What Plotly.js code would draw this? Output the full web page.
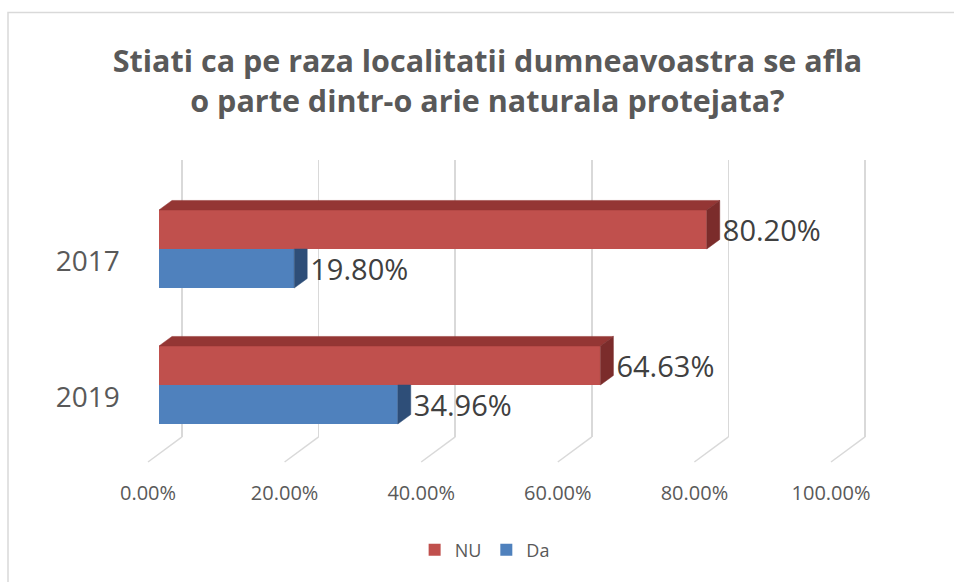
<!DOCTYPE html>
<html>
<head>
<meta charset="utf-8">
<script src="https://cdn.plot.ly/plotly-3.0.1.min.js"></script>
<style>html,body{margin:0;padding:0;background:#fff;}#chart{width:954px;height:582px;}</style>
</head>
<body>
<div id="chart"></div>
<script>
// ---- data ----
const categories = ['2017', '2019'];
const seriesNames = ['NU', 'Da'];
const nuValues = [80.20, 64.63];
const daValues = [19.80, 34.96];
const xTickVals = [0, 20, 40, 60, 80, 100];
const xTickText = ['0.00%', '20.00%', '40.00%', '60.00%', '80.00%', '100.00%'];
const titleText = 'Stiati ca pe raza localitatii dumneavoastra se afla<br>o parte dintr-o arie naturala protejata?';

// ---- styling / geometry constants ----
const W = 0.287;        // bar thickness (category units)
const DX = 1.9;         // 3D depth along x (axis units)
const DY = 0.07;        // 3D depth along y (category units)
const BACK_DX = 3.37, BACK_U = -0.382;   // floor line back end offset
const FRONT_DX = -1.61, FRONT_U = -0.566; // floor line front end offset
const LABEL_DX = 0.45, LABEL_DU = -0.03;  // data label nudge
const RED = '#C0504D', RED_TOP = '#943634', RED_SIDE = '#7B2C2B';
const BLUE = '#4F81BD', BLUE_SIDE = '#2E4E78';
const GRID = '#D9D9D9';
const FONT = 'Open Sans, Noto Sans, sans-serif';

const catPos = categories.map((c, i) => categories.length - 1 - i);

const traces = [];
traces.push({
  type: 'bar', orientation: 'h', name: seriesNames[0],
  x: nuValues, y: catPos, offset: 0, width: W,
  marker: {color: RED, line: {width: 0}},
  xaxis: 'x2', yaxis: 'y2', hoverinfo: 'x+name'
});
traces.push({
  type: 'bar', orientation: 'h', name: seriesNames[1],
  x: daValues, y: catPos, offset: -W, width: W,
  marker: {color: BLUE, line: {width: 0}},
  xaxis: 'x2', yaxis: 'y2', hoverinfo: 'x+name'
});

function poly(xs, ys, color) {
  return {
    type: 'scatter', mode: 'lines', x: xs.concat([xs[0]]), y: ys.concat([ys[0]]),
    fill: 'toself', fillcolor: color, line: {color: color, width: 0.5},
    xaxis: 'x2', yaxis: 'y2', hoverinfo: 'skip', showlegend: false, cliponaxis: false
  };
}

catPos.forEach((u, i) => {
  const vn = nuValues[i], vd = daValues[i];
  const nTop = u + W, nBot = u;
  // NU top face
  traces.push(poly([0, vn, vn + DX, DX], [nTop, nTop, nTop + DY, nTop + DY], RED_TOP));
  // NU side face
  traces.push(poly([vn, vn, vn + DX, vn + DX], [nBot, nTop, nTop + DY, nBot + DY], RED_SIDE));
  // Da side face (upper part hidden behind NU bar)
  const dBot = u - W, dTop = u;
  traces.push(poly([vd, vd, vd + DX, vd + DX], [dBot, dTop, dTop, dBot + DY], BLUE_SIDE));
});

// floor lines of the 3D grid
const fx = [], fy = [];
xTickVals.forEach(v => { fx.push(v + BACK_DX, v + FRONT_DX, null); fy.push(BACK_U, FRONT_U, null); });
traces.push({
  type: 'scatter', mode: 'lines', x: fx, y: fy, line: {color: GRID, width: 1.5},
  xaxis: 'x2', yaxis: 'y2', hoverinfo: 'skip', showlegend: false, cliponaxis: false
});

// data labels
function labels(vals, du) {
  return {
    type: 'scatter', mode: 'text',
    x: vals.map(v => v + DX + LABEL_DX), y: catPos.map(u => u + du + LABEL_DU),
    text: vals.map(v => v.toFixed(2) + '%'), textposition: 'middle right',
    textfont: {family: FONT, size: 29, color: '#404040'},
    xaxis: 'x2', yaxis: 'y2', hoverinfo: 'skip', showlegend: false, cliponaxis: false
  };
}
traces.push(labels(nuValues, W / 2));
traces.push(labels(daValues, -W / 2));

// dummy trace to create the back-wall grid subplot
traces.push({type: 'scatter', mode: 'markers', x: [50], y: [0.5], xaxis: 'x', yaxis: 'y',
  marker: {opacity: 0}, hoverinfo: 'skip', showlegend: false});

const layout = {
  width: 954, height: 582,
  margin: {l: 0, r: 0, t: 0, b: 0},
  paper_bgcolor: '#FFFFFF', plot_bgcolor: 'rgba(0,0,0,0)',
  barmode: 'overlay',
  title: {
    text: titleText, x: 0.511, xanchor: 'center', y: 0.876, yanchor: 'top', yref: 'container',
    font: {family: FONT, size: 30.5, color: '#595959', weight: 700}
  },
  showlegend: true,
  legend: {
    orientation: 'h', x: 0.508, xanchor: 'center', y: 0.055, yanchor: 'middle',
    font: {family: FONT, size: 18, color: '#595959'}, bgcolor: 'rgba(0,0,0,0)'
  },
  // back wall grid
  xaxis: {
    domain: [175.17 / 954, 871.83 / 954], range: [-1, 101], anchor: 'y',
    tickvals: xTickVals, showticklabels: false, ticks: '',
    showgrid: true, gridcolor: GRID, gridwidth: 1.5, zeroline: false, showline: false, fixedrange: true
  },
  yaxis: {
    domain: [145 / 582, 422 / 582], range: [0, 1], anchor: 'x',
    showgrid: false, zeroline: false, showline: false, showticklabels: false, ticks: '', fixedrange: true
  },
  // bars
  xaxis2: {
    domain: [124.85 / 954, 910.3 / 954], range: [-5, 110], anchor: 'free', position: 103 / 582,
    tickvals: xTickVals, ticktext: xTickText, ticks: '', ticklabelshift: -11,
    tickfont: {family: FONT, size: 20, color: '#595959'},
    showgrid: false, zeroline: false, showline: false, fixedrange: true
  },
  yaxis2: {
    domain: [61 / 582, 469 / 582], range: [-1, 2], anchor: 'x2',
    tickvals: catPos, ticktext: categories, ticks: '', ticklabelshift: 12, ticklabelstandoff: 4,
    tickfont: {family: FONT, size: 28, color: '#595959'},
    showgrid: false, zeroline: false, showline: false, fixedrange: true
  },
  shapes: [{
    type: 'rect', xref: 'paper', yref: 'paper', x0: 8 / 954, x1: 1.05, y0: -0.05, y1: (582 - 12.5) / 582,
    line: {color: GRID, width: 1.5}, fillcolor: 'rgba(0,0,0,0)', layer: 'below'
  }]
};

Plotly.newPlot('chart', traces, layout, {displayModeBar: false, staticPlot: true});
</script>
</body>
</html>
